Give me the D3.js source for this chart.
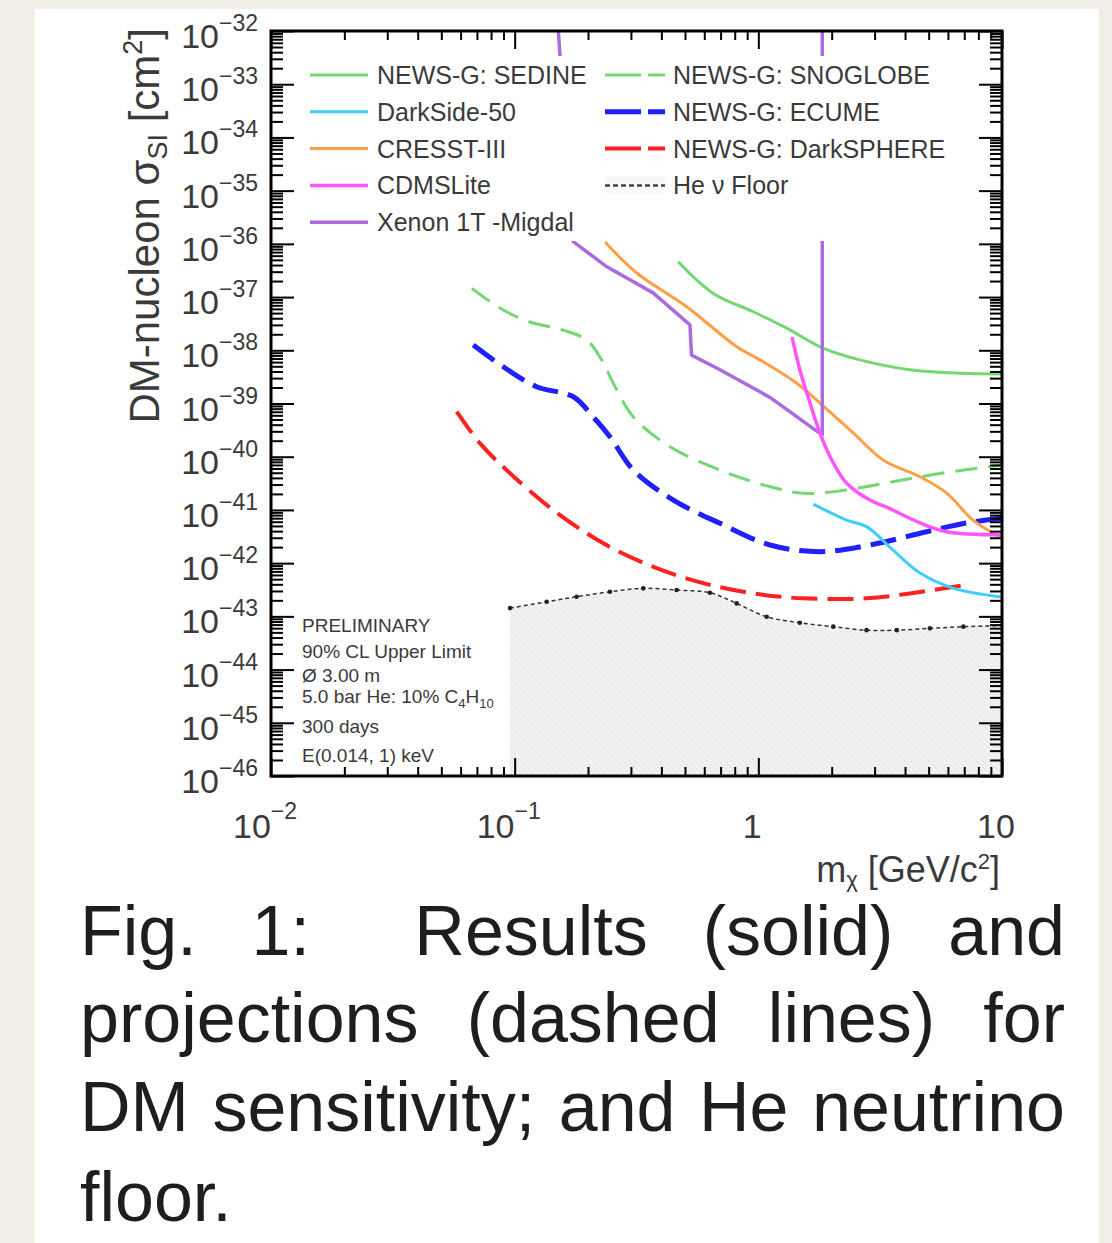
<!DOCTYPE html>
<html>
<head>
<meta charset="utf-8">
<script src="https://cdn.jsdelivr.net/npm/d3@7"></script>
<style>
  html, body { margin: 0; padding: 0; background: #f1eee8; }
  svg { display: block; font-family: "Liberation Sans", Arial, Helvetica, sans-serif; }
</style>
</head>
<body>
<svg id="chart" width="1112" height="1243"></svg>
<script>
// ---- data: [mass GeV/c^2, cross section cm^2] ----
const sedine = [[0.469, 4.6e-37], [0.653, 1.17e-37], [0.953, 5.3e-38], [1.307, 2.6e-38], [1.843, 1.1e-38],
                [2.61, 6.6e-39], [4.19, 4.3e-39], [6.72, 3.7e-39], [10, 3.6e-39]];
const darkside = [[1.68, 1.29e-41], [2.30, 6.45e-42], [2.79, 4.8e-42], [3.57, 1.76e-42], [4.61, 6.5e-43],
                  [6.29, 3.4e-43], [10, 2.3e-43]];
const cresst = [[0.235, 1.08e-36], [0.317, 2.83e-37], [0.508, 6.6e-38], [0.815, 1.17e-38], [1.016, 6.6e-39],
                [1.437, 2.4e-39], [1.79, 1.02e-39], [2.45, 2.8e-40], [3.25, 8.7e-41], [4.61, 4.2e-41],
                [5.93, 2.07e-41], [7.60, 6.45e-42], [10, 2.96e-42]];
const cdmslite = [[1.375, 1.77e-38], [1.48, 4.3e-39], [1.63, 1.02e-39], [1.79, 2.8e-40], [1.97, 1.0e-40],
                  [2.30, 3.2e-41], [2.87, 1.53e-41], [3.36, 1.13e-41], [4.61, 5.7e-42], [5.93, 3.9e-42],
                  [10, 3.4e-42]];
const xenonMigdal = [[0.151, 1e-32], [0.174, 1.1e-36], [0.239, 3.7e-37], [0.370, 1.2e-37], [0.524, 3.0e-38],
                     [0.532, 8.1e-39], [0.696, 4.3e-39], [1.117, 1.3e-39], [1.83, 2.55e-40], [1.83, 1e-32]];
const snoglobe = [[0.0667, 1.46e-37], [0.0898, 5.7e-38], [0.1156, 3.4e-38], [0.158, 2.4e-38], [0.1975, 1.56e-38],
                  [0.2276, 6.6e-39], [0.254, 2.4e-39], [0.307, 5.6e-40], [0.434, 1.54e-40], [0.696, 5.6e-41],
                  [1.117, 2.73e-41], [1.53, 2.05e-41], [2.30, 2.37e-41], [3.57, 3.39e-41], [5.73, 4.93e-41],
                  [10, 7.0e-41]];
const ecume = [[0.0676, 1.26e-38], [0.0898, 4.9e-39], [0.123, 2.07e-39], [0.174, 1.34e-39], [0.210, 5.6e-40],
               [0.246, 2.38e-40], [0.307, 5.6e-41], [0.448, 1.53e-41], [0.696, 5.6e-42], [1.117, 2.19e-42],
               [1.79, 1.64e-42], [2.87, 2.19e-42], [4.91, 3.9e-42], [7.16, 5.7e-42], [10, 7.0e-42]];
const darksphere = [[0.0578, 7.0e-40], [0.0721, 1.78e-40], [0.0957, 4.9e-41], [0.144, 9.95e-42], [0.231, 2.36e-42],
                    [0.371, 8.5e-43], [0.594, 4.2e-43], [0.953, 2.7e-43], [1.53, 2.18e-43], [2.78, 2.18e-43],
                    [4.19, 2.7e-43], [7.16, 3.9e-43]];
const heFloor = [[0.0957, 1.43e-43], [0.1353, 1.88e-43], [0.1797, 2.34e-43], [0.246, 2.9e-43], [0.337, 3.36e-43],
                 [0.462, 3.12e-43], [0.633, 2.78e-43], [0.815, 1.75e-43], [1.082, 9.8e-44], [1.48, 7.6e-44],
                 [2.03, 6.4e-44], [2.78, 5.5e-44], [3.70, 5.5e-44], [5.06, 5.95e-44], [6.94, 6.4e-44],
                 [10, 6.7e-44]];

// axis ticks (powers of ten)
const xDecades = [-2, -1, 0, 1];
const yDecades = d3.range(-46, -31);
const xTickText = [["10", "\u22122"], ["10", "\u22121"], ["1", ""], ["10", ""]];

// legend / labels
const legendLeft = ["NEWS-G: SEDINE", "DarkSide-50", "CRESST-III", "CDMSLite", "Xenon 1T -Migdal"];
const legendRight = ["NEWS-G: SNOGLOBE", "NEWS-G: ECUME", "NEWS-G: DarkSPHERE", "He \u03bd Floor"];
const infoLines = ["PRELIMINARY", "90% CL Upper Limit", "\u00d8 3.00 m", "5.0 bar He: 10% C", "300 days", "E(0.014, 1) keV"];
const captionLines = [["Fig.", "1:", "Results", "(solid)", "and"],
                      ["projections", "(dashed", "lines)", "for"],
                      ["DM", "sensitivity;", "and", "He", "neutrino"],
                      ["floor."]];

// ---- layout ----
const W = 1112, H = 1243;
const plot = {left: 271, right: 1002, top: 31, bottom: 776};

const svg = d3.select("#chart");
const x = d3.scaleLog().domain([0.01, 10]).range([plot.left, plot.right]);
const y = d3.scaleLog().domain([1e-46, 1e-32]).range([plot.bottom, plot.top]);

// page background + white card
svg.append("rect").attr("width", W).attr("height", H).attr("fill", "#f1eee8");
svg.append("rect").attr("x", 35).attr("y", 9).attr("width", 1064).attr("height", H).attr("fill", "#ffffff");

const defs = svg.append("defs");
defs.append("clipPath").attr("id", "plot-clip")
    .append("rect")
    .attr("x", plot.left).attr("y", plot.top)
    .attr("width", plot.right - plot.left).attr("height", plot.bottom - plot.top);

const hatch = defs.append("pattern")
    .attr("id", "hatch")
    .attr("patternUnits", "userSpaceOnUse")
    .attr("width", 6).attr("height", 6);
hatch.append("rect").attr("width", 6).attr("height", 6).attr("fill", "#f1f1f1");
hatch.append("path").attr("d", "M0,0L6,6M-1,5L1,7M5,-1L7,1").attr("stroke", "#e4e4e4").attr("stroke-width", 1);

const plotArea = svg.append("g").attr("clip-path", "url(#plot-clip)");

// He neutrino floor (filled)
plotArea.append("path")
    .datum(heFloor)
    .attr("fill", "url(#hatch)")
    .attr("d", d3.area().x(d => x(d[0])).y0(y(1e-46)).y1(d => y(d[1])));

const styles = {
    sedine:      {color: "#74d774", width: 3},
    darkside:    {color: "#3fcdfb", width: 3},
    cresst:      {color: "#ff9f45", width: 3},
    cdmslite:    {color: "#ff55ff", width: 3.5},
    xenon:       {color: "#aa6cdc", width: 3.5},
    snoglobe:    {color: "#74d774", width: 3, dash: "22,11"},
    ecume:       {color: "#2020ff", width: 5, dash: "26,10"},
    darksphere:  {color: "#ff2020", width: 4, dash: "26,10"}
};

const smooth = d3.line().x(d => x(d[0])).y(d => y(d[1])).curve(d3.curveCatmullRom.alpha(0.5));
const straight = d3.line().x(d => x(d[0])).y(d => y(d[1]));

const curves = [
    {data: heFloor, key: null},
    {data: darksphere, key: "darksphere"},
    {data: ecume, key: "ecume"},
    {data: snoglobe, key: "snoglobe"},
    {data: sedine, key: "sedine"},
    {data: cresst, key: "cresst"},
    {data: darkside, key: "darkside"},
    {data: xenonMigdal, key: "xenon", linear: true},
    {data: cdmslite, key: "cdmslite"}
];

curves.forEach(c => {
    if (!c.key) {
        // floor outline: dark dotted line with markers
        plotArea.append("path")
            .datum(c.data)
            .attr("fill", "none")
            .attr("stroke", "#333")
            .attr("stroke-width", 1.5)
            .attr("stroke-dasharray", "4,3")
            .attr("d", smooth);
        plotArea.selectAll("circle.floor")
            .data(c.data.slice(0, -1))
            .enter()
            .append("circle")
            .attr("class", "floor")
            .attr("cx", d => x(d[0]))
            .attr("cy", d => y(d[1]))
            .attr("r", 2.3)
            .attr("fill", "#222");
        return;
    }
    const s = styles[c.key];
    plotArea.append("path")
        .datum(c.data)
        .attr("fill", "none")
        .attr("stroke", s.color)
        .attr("stroke-width", s.width)
        .attr("stroke-dasharray", s.dash || null)
        .attr("stroke-linejoin", "round")
        .attr("d", c.linear ? straight : smooth);
});

// ---- legend (white box hides the curves behind it) ----
const legend = svg.append("g");
legend.append("rect")
    .attr("x", 297).attr("y", 56)
    .attr("width", 678).attr("height", 185)
    .attr("fill", "#fff");

const rowY = i => 75 + i * 36.8;
const leftKeys = ["sedine", "darkside", "cresst", "cdmslite", "xenon"];
const rightKeys = ["snoglobe", "ecume", "darksphere", null];

legendLeft.forEach((name, i) => {
    const s = styles[leftKeys[i]];
    legend.append("line")
        .attr("x1", 310).attr("x2", 368)
        .attr("y1", rowY(i)).attr("y2", rowY(i))
        .attr("stroke", s.color).attr("stroke-width", s.width);
    legend.append("text")
        .attr("x", 377).attr("y", rowY(i) + 9)
        .attr("font-size", 25).attr("fill", "#3a3a3a")
        .text(name);
});

legendRight.forEach((name, i) => {
    const key = rightKeys[i];
    if (key) {
        const s = styles[key];
        legend.append("line")
            .attr("x1", 605).attr("x2", 665)
            .attr("y1", rowY(i)).attr("y2", rowY(i))
            .attr("stroke", s.color).attr("stroke-width", s.width)
            .attr("stroke-dasharray", "36,7");
    } else {
        legend.append("rect")
            .attr("x", 605).attr("y", rowY(i) - 9)
            .attr("width", 60).attr("height", 18)
            .attr("fill", "#f8f8f8");
        legend.append("line")
            .attr("x1", 605).attr("x2", 665)
            .attr("y1", rowY(i)).attr("y2", rowY(i))
            .attr("stroke", "#444").attr("stroke-width", 2.5)
            .attr("stroke-dasharray", "5,3");
    }
    legend.append("text")
        .attr("x", 673).attr("y", rowY(i) + 9)
        .attr("font-size", 25).attr("fill", "#3a3a3a")
        .text(name);
});

// ---- info block ----
const infoBase = [632, 658, 682, 703, 733, 762];
infoLines.forEach((line, i) => {
    const t = svg.append("text")
        .attr("x", 302).attr("y", infoBase[i])
        .attr("font-size", 19).attr("fill", "#3a3a3a")
        .text(line);
    if (line.endsWith("C")) {
        t.append("tspan").attr("font-size", 13).attr("dy", 5).text("4");
        t.append("tspan").attr("font-size", 19).attr("dy", -5).text("H");
        t.append("tspan").attr("font-size", 13).attr("dy", 5).text("10");
    }
});

// ---- axes, ROOT style: ticks inside on all four sides ----
const minorOf = decades => decades.slice(0, -1).flatMap(d => d3.range(2, 10).map(k => k * Math.pow(10, d)));
const xMajor = xDecades.map(d => Math.pow(10, d));
const yMajor = yDecades.map(d => Math.pow(10, d));
const xMinor = minorOf(xDecades);
const yMinor = minorOf(yDecades);

function tickAxis(axisFn, scale, values, size, transform) {
    svg.append("g")
        .attr("transform", transform)
        .call(axisFn(scale).tickValues(values).tickSize(size).tickFormat(""))
        .call(g => g.select(".domain").remove())
        .call(g => g.selectAll("line").attr("stroke", "#000").attr("stroke-width", 2));
}

tickAxis(d3.axisBottom, x, xMinor, -9, `translate(0,${plot.bottom})`);
tickAxis(d3.axisBottom, x, xMajor, -18, `translate(0,${plot.bottom})`);
tickAxis(d3.axisTop, x, xMinor, -9, `translate(0,${plot.top})`);
tickAxis(d3.axisTop, x, xMajor, -18, `translate(0,${plot.top})`);
tickAxis(d3.axisLeft, y, yMinor, -12, `translate(${plot.left},0)`);
tickAxis(d3.axisLeft, y, yMajor, -23, `translate(${plot.left},0)`);
tickAxis(d3.axisRight, y, yMinor, -12, `translate(${plot.right},0)`);
tickAxis(d3.axisRight, y, yMajor, -23, `translate(${plot.right},0)`);

svg.append("rect")
    .attr("x", plot.left).attr("y", plot.top)
    .attr("width", plot.right - plot.left).attr("height", plot.bottom - plot.top)
    .attr("fill", "none").attr("stroke", "#000").attr("stroke-width", 3);

// y tick labels: 10^-n
yDecades.forEach(d => {
    const t = svg.append("text")
        .attr("x", 258).attr("y", y(Math.pow(10, d)) + 17)
        .attr("text-anchor", "end")
        .attr("fill", "#3a3a3a");
    t.append("tspan").attr("font-size", 34).text("10");
    t.append("tspan").attr("font-size", 23).attr("dy", -17).text("\u2212" + Math.abs(d));
});

// x tick labels
xDecades.forEach((d, i) => {
    const t = svg.append("text")
        .attr("x", x(Math.pow(10, d)) - 6).attr("y", 838)
        .attr("text-anchor", "middle")
        .attr("fill", "#3a3a3a");
    t.append("tspan").attr("font-size", 34).text(xTickText[i][0]);
    if (xTickText[i][1]) {
        t.append("tspan").attr("font-size", 23).attr("dy", -19).text(xTickText[i][1]);
    }
});

// axis titles
const xTitle = svg.append("text")
    .attr("x", 1000).attr("y", 882)
    .attr("text-anchor", "end")
    .attr("font-size", 36).attr("fill", "#3a3a3a");
xTitle.append("tspan").text("m");
xTitle.append("tspan").attr("font-size", 22).attr("dy", 5).text("\u03c7");
xTitle.append("tspan").attr("dy", -5).text(" [GeV/c");
xTitle.append("tspan").attr("font-size", 22).attr("dy", -13).text("2");
xTitle.append("tspan").attr("dy", 13).text("]");

const yTitle = svg.append("text")
    .attr("transform", "translate(159,28) rotate(-90)")
    .attr("text-anchor", "end")
    .attr("font-size", 42).attr("fill", "#3a3a3a");
yTitle.append("tspan").text("DM-nucleon \u03c3");
yTitle.append("tspan").attr("font-size", 27).attr("dy", 8).text("SI");
yTitle.append("tspan").attr("dy", -8).text(" [cm");
yTitle.append("tspan").attr("font-size", 27).attr("dy", -17).text("2");
yTitle.append("tspan").attr("dy", 17).text("]");

// ---- caption, justified between the card margins ----
const capLeft = 80, capRight = 1065;
const capBase = [955, 1042, 1131, 1221];
const gapWeights = [[1, 1.9, 1, 1], null, null, null];

captionLines.forEach((words, li) => {
    const nodes = words.map(w => svg.append("text")
        .attr("y", capBase[li])
        .attr("font-size", 70)
        .attr("fill", "#1e1e1e")
        .text(w));
    const widths = nodes.map(n => n.node().getComputedTextLength());
    if (words.length === 1) {
        nodes[0].attr("x", capLeft);
        return;
    }
    const weights = gapWeights[li] || d3.range(words.length - 1).map(() => 1);
    const free = (capRight - capLeft) - d3.sum(widths);
    const unit = free / d3.sum(weights);
    let cx = capLeft;
    nodes.forEach((n, i) => {
        n.attr("x", cx);
        cx += widths[i] + (i < weights.length ? weights[i] * unit : 0);
    });
});
</script>
</body>
</html>
